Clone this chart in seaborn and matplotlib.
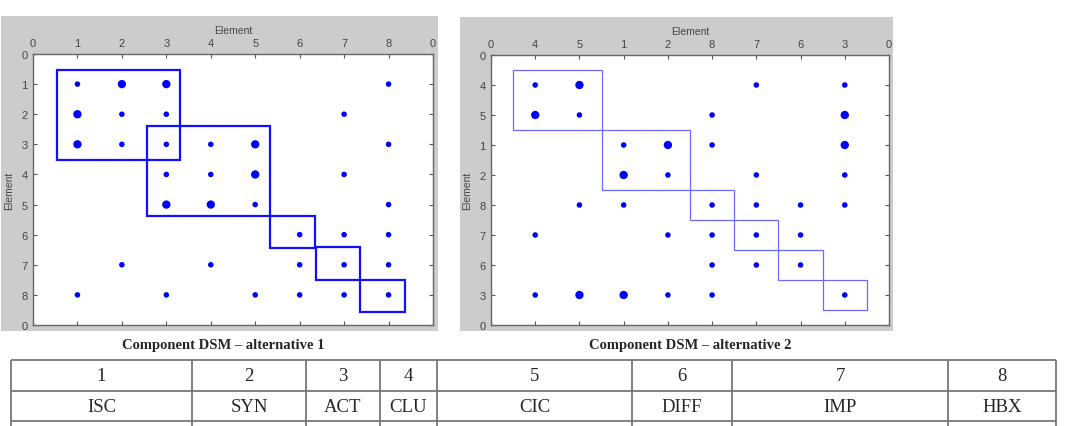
import matplotlib
matplotlib.use("Agg")
import matplotlib.pyplot as plt
import seaborn as sns
import pandas as pd
from matplotlib.patches import Rectangle

sns.set_theme(style="white")
plt.rcParams['font.family'] = ['Liberation Sans', 'DejaVu Sans']

# --- Dados: DSM alternativa 1 (ordem natural dos elementos) ---
order_alt1 = [1, 2, 3, 4, 5, 6, 7, 8]
dsm1_row = [1, 1, 1, 1,
            2, 2, 2, 2,
            3, 3, 3, 3, 3, 3,
            4, 4, 4, 4,
            5, 5, 5, 5,
            6, 6, 6,
            7, 7, 7, 7, 7,
            8, 8, 8, 8, 8, 8]
dsm1_col = [1, 2, 3, 8,
            1, 2, 3, 7,
            1, 2, 3, 4, 5, 8,
            3, 4, 5, 7,
            3, 4, 5, 8,
            6, 7, 8,
            2, 4, 6, 7, 8,
            1, 3, 5, 6, 7, 8]
dsm1_weight = [1, 2, 2, 1,
               2, 1, 1, 1,
               2, 1, 1, 1, 2, 1,
               1, 1, 2, 1,
               2, 2, 1, 1,
               1, 1, 1,
               1, 1, 1, 1, 1,
               1, 1, 1, 1, 1, 1]
# clusters (limites, em unidades de posição)
clus1_x0 = [0.54, 2.56, 5.33, 6.36, 7.36]
clus1_x1 = [3.31, 5.33, 6.34, 7.36, 8.36]
clus1_y0 = [0.54, 2.38, 5.37, 6.41, 7.50]
clus1_y1 = [3.52, 5.37, 6.44, 7.50, 8.58]

# --- Dados: DSM alternativa 2 (elementos reordenados) ---
order_alt2 = [4, 5, 1, 2, 8, 7, 6, 3]
dsm2_row = [4, 4, 4, 4,
            5, 5, 5, 5,
            1, 1, 1, 1,
            2, 2, 2, 2,
            8, 8, 8, 8, 8, 8,
            7, 7, 7, 7, 7,
            6, 6, 6,
            3, 3, 3, 3, 3, 3]
dsm2_col = [4, 5, 7, 3,
            4, 5, 8, 3,
            1, 2, 8, 3,
            1, 2, 7, 3,
            5, 1, 8, 7, 6, 3,
            4, 2, 8, 7, 6,
            8, 7, 6,
            4, 5, 1, 2, 8, 3]
dsm2_weight = [1, 2, 1, 1,
               2, 1, 1, 2,
               1, 2, 1, 2,
               2, 1, 1, 1,
               1, 1, 1, 1, 1, 1,
               1, 1, 1, 1, 1,
               1, 1, 1,
               1, 2, 2, 1, 1, 1]
clus2_x0 = [0.5, 2.5, 4.5, 5.5, 6.5, 7.5]
clus2_x1 = [2.5, 4.5, 5.5, 6.5, 7.5, 8.5]
clus2_y0 = [0.5, 2.5, 4.5, 5.5, 6.5, 7.5]
clus2_y1 = [2.5, 4.5, 5.5, 6.5, 7.5, 8.5]

# --- Dados: tabela de componentes ---
comp_ids = ['1', '2', '3', '4', '5', '6', '7', '8']
comp_names = ['ISC', 'SYN', 'ACT', 'CLU', 'CIC', 'DIFF', 'IMP', 'HBX']

W, H = 1065, 427


def px(x0, y0, x1, y1):
    # converte caixa em pixels (topo-esquerda) para fração da figura
    return [x0 / W, 1 - y1 / H, (x1 - x0) / W, (y1 - y0) / H]


def desenhar_dsm(ax, rows, cols, weights, order, bx0, bx1, by0, by1, cor, lw):
    pos = {e: i + 1 for i, e in enumerate(order)}
    df = pd.DataFrame({
        'linha': [pos[r] for r in rows],
        'coluna': [pos[c] for c in cols],
        'peso': weights,
    })
    sns.scatterplot(data=df, x='coluna', y='linha', size='peso',
                    sizes={1: 16, 2: 36}, color='#0000ff', edgecolor='none',
                    legend=False, ax=ax, zorder=3)
    for x0, x1, y0, y1 in zip(bx0, bx1, by0, by1):
        ax.add_patch(Rectangle((x0, y0), x1 - x0, y1 - y0, fill=False,
                               edgecolor=cor, linewidth=lw, zorder=4))
    ticks = list(range(10))
    labs = ['0'] + [str(e) for e in order] + ['0']
    ax.set_xlim(0, 9)
    ax.set_ylim(9, 0)
    ax.set_xticks(ticks)
    ax.set_xticklabels(labs)
    ax.set_yticks(ticks)
    ax.set_yticklabels(labs)
    ax.set_facecolor('white')
    ax.grid(False)
    ax.tick_params(axis='x', top=True, bottom=True, labeltop=True,
                   labelbottom=False, direction='in', length=3, width=0.8,
                   color='#555555', labelcolor='#444444', labelsize=8, pad=4)
    ax.tick_params(axis='y', left=True, right=True, labelleft=True,
                   direction='in', length=3, width=0.8,
                   color='#555555', labelcolor='#444444', labelsize=8, pad=4)
    ax.xaxis.set_label_position('top')
    ax.set_xlabel('Element', fontsize=7.5, color='#444444', labelpad=4)
    ax.set_ylabel('Element', fontsize=7.5, color='#444444', labelpad=5)
    for s in ax.spines.values():
        s.set_visible(True)
        s.set_color('#666666')
        s.set_linewidth(1.0)


fig = plt.figure(figsize=(W / 100, H / 100), dpi=100)
fig.patch.set_facecolor('white')

# camada de fundo em pixels: painéis cinzentos, legendas e tabela
bg = fig.add_axes([0, 0, 1, 1], zorder=0)
bg.set_xlim(0, W)
bg.set_ylim(H, 0)
bg.axis('off')
bg.add_patch(Rectangle((1, 17), 437, 315, facecolor='#cccccc', edgecolor='none'))
bg.add_patch(Rectangle((460, 18), 433, 314, facecolor='#cccccc', edgecolor='none'))

ax1 = fig.add_axes(px(33, 55, 433, 326), zorder=1)
desenhar_dsm(ax1, dsm1_row, dsm1_col, dsm1_weight, order_alt1,
             clus1_x0, clus1_x1, clus1_y0, clus1_y1, '#1010ff', 1.6)

ax2 = fig.add_axes(px(491, 56, 889, 326), zorder=1)
desenhar_dsm(ax2, dsm2_row, dsm2_col, dsm2_weight, order_alt2,
             clus2_x0, clus2_x1, clus2_y0, clus2_y1, '#6a6aff', 0.9)

serif = ['Liberation Serif', 'DejaVu Serif']
bg.text(223, 346, 'Component DSM \u2013 alternative 1', ha='center', va='center',
        fontsize=10.5, fontweight='bold', family=serif)
bg.text(690, 346, 'Component DSM \u2013 alternative 2', ha='center', va='center',
        fontsize=10.5, fontweight='bold', family=serif)

# tabela
col_edges = [11, 192, 306, 380, 437, 632, 732, 948, 1056]
row_edges = [361, 392, 422]
for y in row_edges:
    bg.plot([col_edges[0], col_edges[-1]], [y, y], color='#777777', lw=1.3,
            solid_capstyle='butt')
for x in col_edges:
    bg.plot([x, x], [row_edges[0], H + 5], color='#777777', lw=1.3,
            solid_capstyle='butt')
for i in range(len(comp_ids)):
    cx = (col_edges[i] + col_edges[i + 1]) / 2
    bg.text(cx, 377, comp_ids[i], ha='center', va='center', fontsize=13.5,
            family=serif)
    bg.text(cx, 408, comp_names[i], ha='center', va='center', fontsize=13.5,
            family=serif)

plt.savefig('out.png', dpi=100)
plt.close()
